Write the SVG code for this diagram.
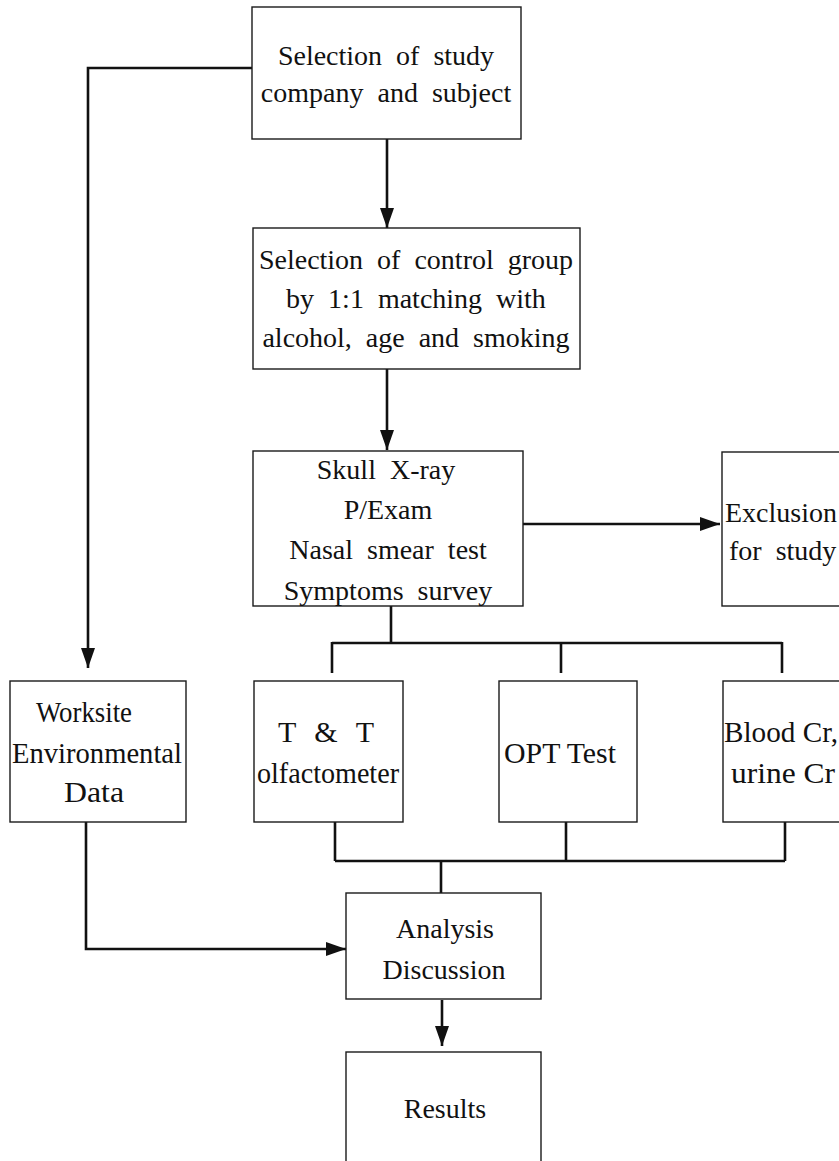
<svg xmlns="http://www.w3.org/2000/svg" width="839" height="1161" viewBox="0 0 839 1161">
<style>
.box{fill:#fff;stroke:#1a1a1a;stroke-width:1.4}
.t{font-family:"Liberation Serif","Times New Roman",serif;font-size:28px;fill:#111;text-anchor:middle;word-spacing:7px}
.b{font-family:"Liberation Serif","Times New Roman",serif;font-size:30px;fill:#111;text-anchor:middle}
.c{fill:none;stroke:#111;stroke-width:2.6}
</style>
<defs>
<marker id="ah" viewBox="0 0 20 14" refX="20" refY="7" markerWidth="20" markerHeight="14" orient="auto" markerUnits="userSpaceOnUse">
<path d="M0,0 L20,7 L0,14 z" fill="#111"/>
</marker>
</defs>
<rect width="839" height="1161" fill="#fff"/>
<g id="connectors">
<path class="c" d="M252,68 H88 V668" marker-end="url(#ah)"/>
<path class="c" d="M387,139 V228" marker-end="url(#ah)"/>
<path class="c" d="M387,369 V450" marker-end="url(#ah)"/>
<path class="c" d="M517,524 H720" marker-end="url(#ah)"/>
<path class="c" d="M391,606 V643 M332,643 H782 M332,642 V673 M561,642 V673 M782,642 V673"/>
<path class="c" d="M335,822 V861 M566,822 V861 M785,822 V861 M335,861 H785 M441,861 V893"/>
<path class="c" d="M86,822 V949 H346" marker-end="url(#ah)"/>
<path class="c" d="M442,1000 V1046" marker-end="url(#ah)"/>
</g>
<g id="n1">
<rect class="box" x="252" y="7" width="269" height="132"/>
<text class="t" x="386" y="65">Selection of study</text>
<text class="t" x="386" y="102">company and subject</text>
</g>
<g id="n2">
<rect class="box" x="253" y="228" width="327" height="141"/>
<text class="t" x="416" y="269">Selection of control group</text>
<text class="t" x="416" y="308">by 1:1 matching with</text>
<text class="t" x="416" y="347">alcohol, age and smoking</text>
</g>
<g id="n3">
<rect class="box" x="253" y="451" width="270" height="155"/>
<text class="t" x="386" y="479">Skull X-ray</text>
<text class="t" x="388" y="519">P/Exam</text>
<text class="t" x="388" y="559">Nasal smear test</text>
<text class="t" x="388" y="600">Symptoms survey</text>
</g>
<g id="n4">
<rect class="box" x="722" y="452" width="130" height="154"/>
<text class="t" x="725" y="522" style="text-anchor:start">Exclusion</text>
<text class="t" x="729" y="560" style="text-anchor:start">for study</text>
</g>
<g id="n5">
<rect class="box" x="10" y="681" width="176" height="141"/>
<text class="b" x="84" y="722" textLength="96" lengthAdjust="spacingAndGlyphs">Worksite</text>
<text class="b" x="97" y="763" textLength="170" lengthAdjust="spacingAndGlyphs">Environmental</text>
<text class="b" x="94" y="802" textLength="60" lengthAdjust="spacingAndGlyphs">Data</text>
</g>
<g id="n6">
<rect class="box" x="254" y="681" width="149" height="141"/>
<text class="b" x="326" y="742" textLength="96" lengthAdjust="spacing">T &amp; T</text>
<text class="b" x="328" y="783" textLength="142" lengthAdjust="spacingAndGlyphs">olfactometer</text>
</g>
<g id="n7">
<rect class="box" x="499" y="681" width="138" height="141"/>
<text class="b" x="560" y="763" textLength="112" lengthAdjust="spacingAndGlyphs">OPT Test</text>
</g>
<g id="n8">
<rect class="box" x="723" y="681" width="130" height="141"/>
<text class="b" x="781" y="742" textLength="114" lengthAdjust="spacingAndGlyphs">Blood Cr,</text>
<text class="b" x="783" y="783" textLength="104" lengthAdjust="spacingAndGlyphs">urine Cr</text>
</g>
<g id="n9">
<rect class="box" x="346" y="893" width="195" height="106"/>
<text class="t" x="445" y="938">Analysis</text>
<text class="t" x="444" y="979">Discussion</text>
</g>
<g id="n10">
<rect class="box" x="346" y="1052" width="195" height="130"/>
<text class="t" x="445" y="1118">Results</text>
</g>
</svg>
